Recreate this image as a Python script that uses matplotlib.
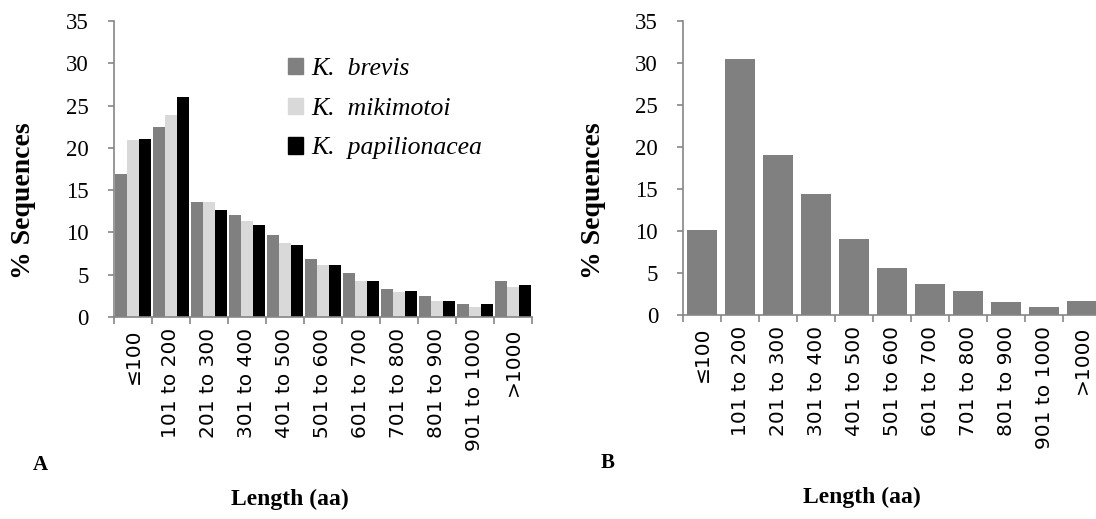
import numpy as np
import matplotlib.pyplot as plt
from matplotlib.patches import Patch

categories = ['\u2264100', '101 to 200', '201 to 300', '301 to 400', '401 to 500',
              '501 to 600', '601 to 700', '701 to 800', '801 to 900',
              '901 to 1000', '>1000']

k_brevis = [16.9, 22.5, 13.6, 12.1, 9.7, 6.9, 5.2, 3.3, 2.5, 1.5, 4.3]
k_mikimotoi = [20.9, 23.9, 13.6, 11.4, 8.8, 6.2, 4.3, 2.9, 1.9, 1.2, 3.6]
k_papilionacea = [21.1, 26.0, 12.6, 10.9, 8.5, 6.2, 4.3, 3.1, 1.9, 1.5, 3.8]

panel_b = [10.1, 30.5, 19.1, 14.4, 9.1, 5.6, 3.7, 2.9, 1.5, 1.0, 1.7]

y_ticks = [0, 5, 10, 15, 20, 25, 30, 35]

plt.rcParams['font.family'] = ['Liberation Serif', 'DejaVu Serif']
W, H = 1096, 519


def style_axes(ax):
    ax.set_ylim(0, 35)
    ax.set_xlim(-0.5, len(categories) - 0.5)
    ax.set_yticks(y_ticks, labels=[str(t) for t in y_ticks],
                  fontfamily='Liberation Serif', fontsize=16.5)
    for s in ['top', 'right']:
        ax.spines[s].set_visible(False)
    for s in ['left', 'bottom']:
        ax.spines[s].set_color('#868686')
        ax.spines[s].set_linewidth(1.2)
    ax.tick_params(axis='y', length=4, width=1.2, color='#868686', pad=14)
    ax.set_xticks(np.arange(len(categories)))
    ax.set_xticklabels(categories, rotation=90, fontfamily='DejaVu Sans',
                       fontsize=14.5, va='top')
    ax.set_xticks(np.arange(len(categories) + 1) - 0.5, minor=True)
    ax.tick_params(axis='x', which='major', length=0, pad=8)
    ax.tick_params(axis='x', which='minor', length=5, width=1.2, color='#868686')


fig = plt.figure(figsize=(W / 100, H / 100), dpi=100)

# panel A
axA = fig.add_axes([114 / W, 1 - 317 / H, 418 / W, 296 / H])
x = np.arange(len(categories))
w = 0.31
axA.bar(x - w, k_brevis, w, color='#808080')
axA.bar(x, k_mikimotoi, w, color='#d9d9d9')
axA.bar(x + w, k_papilionacea, w, color='#000000')
style_axes(axA)
handles = [Patch(color='#808080'), Patch(color='#d9d9d9'), Patch(color='#000000')]
axA.legend(handles, ['K.  brevis', 'K.  mikimotoi', 'K.  papilionacea'],
           loc='upper left', bbox_to_anchor=(275 / W, 1 - 45 / H),
           bbox_transform=fig.transFigure, frameon=False,
           prop={'style': 'italic', 'size': 18.5},
           handlelength=0.6, handleheight=0.6, handletextpad=0.3,
           labelspacing=0.68, borderpad=0)

# panel B
axB = fig.add_axes([683 / W, 1 - 315 / H, 418 / W, 294 / H])
axB.bar(x, panel_b, 0.8, color='#808080')
style_axes(axB)

for xp in (24, 594):
    fig.text(xp / W, 1 - 201 / H, '% Sequences', rotation=90, ha='center',
             va='center', fontweight='bold', fontsize=20)
fig.text(290 / W, 1 - 499 / H, 'Length (aa)', ha='center', va='center',
         fontweight='bold', fontsize=17)
fig.text(862 / W, 1 - 497 / H, 'Length (aa)', ha='center', va='center',
         fontweight='bold', fontsize=17)
fig.text(40 / W, 1 - 465 / H, 'A', ha='center', va='center',
         fontweight='bold', fontsize=15)
fig.text(608 / W, 1 - 463 / H, 'B', ha='center', va='center',
         fontweight='bold', fontsize=15)

fig.savefig('out.png', dpi=100)
